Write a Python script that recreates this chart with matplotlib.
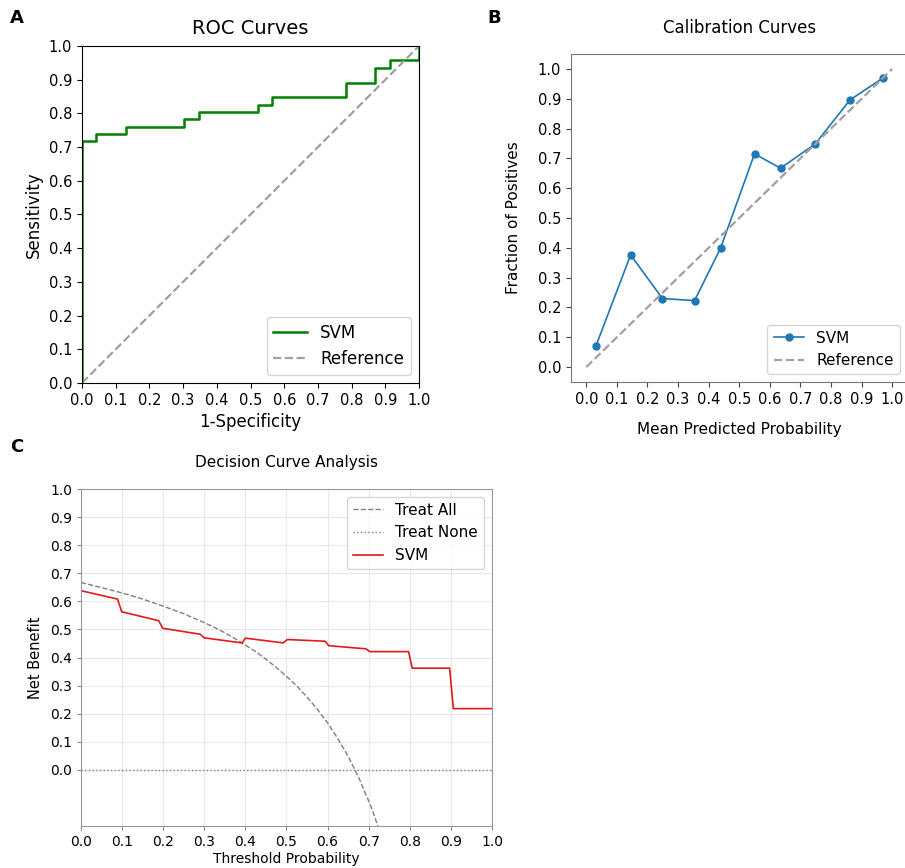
import matplotlib
matplotlib.use("Agg")
import matplotlib.pyplot as plt

# ---- Data ----
# ROC (corner points of the step curve)
roc_fpr = [0.0, 0.0, 0.043, 0.043, 0.130, 0.130, 0.304, 0.304, 0.348, 0.348, 0.522, 0.522,
           0.565, 0.565, 0.783, 0.783, 0.870, 0.870, 0.913, 0.913, 1.0, 1.0]
roc_tpr = [0.0, 0.717, 0.717, 0.739, 0.739, 0.761, 0.761, 0.783, 0.783, 0.804, 0.804, 0.826,
           0.826, 0.848, 0.848, 0.891, 0.891, 0.935, 0.935, 0.957, 0.957, 1.0]
ref_line = [0.0, 1.0]

# Calibration
cal_pred = [0.032, 0.145, 0.249, 0.354, 0.439, 0.550, 0.635, 0.749, 0.862, 0.969]
cal_frac = [0.072, 0.376, 0.230, 0.223, 0.399, 0.715, 0.667, 0.749, 0.896, 0.969]

# Decision curve
treat_all_thr = [0.0, 0.05, 0.10, 0.15, 0.20, 0.25, 0.30, 0.325, 0.35, 0.375, 0.40, 0.425,
                 0.45, 0.475, 0.50, 0.525, 0.55, 0.575, 0.60, 0.625, 0.65, 0.675, 0.70,
                 0.71, 0.725]
treat_all_nb = [0.667, 0.649, 0.630, 0.608, 0.583, 0.556, 0.524, 0.507, 0.488, 0.467, 0.444,
                0.421, 0.394, 0.365, 0.333, 0.299, 0.259, 0.216, 0.167, 0.111, 0.048,
                -0.025, -0.111, -0.148, -0.212]
none_thr = [0.0, 1.0]
none_nb = [0.0, 0.0]
svm_thr = [0.0, 0.089, 0.099, 0.189, 0.199, 0.290, 0.300, 0.392, 0.400, 0.492, 0.502, 0.594,
           0.603, 0.693, 0.703, 0.797, 0.806, 0.897, 0.906, 1.0]
svm_nb = [0.638, 0.608, 0.563, 0.531, 0.504, 0.483, 0.470, 0.452, 0.469, 0.452, 0.464, 0.458,
          0.442, 0.431, 0.421, 0.421, 0.362, 0.362, 0.218, 0.218]

ticks = [0.0, 0.1, 0.2, 0.3, 0.4, 0.5, 0.6, 0.7, 0.8, 0.9, 1.0]
tick_labels = ["0.0", "0.1", "0.2", "0.3", "0.4", "0.5", "0.6", "0.7", "0.8", "0.9", "1.0"]

plt.rcParams['font.family'] = ['DejaVu Sans']

fig = plt.figure(figsize=(9.05, 8.68), dpi=100)

# ---- Panel A: ROC ----
axA = fig.add_axes([0.0906, 0.5588, 0.3724, 0.3882])
axA.plot(roc_fpr, roc_tpr, color='green', lw=1.8, label='SVM')
axA.plot(ref_line, ref_line, color='#a0a0a0', lw=1.6, ls='--', label='Reference')
axA.set_xlim(0, 1)
axA.set_ylim(0, 1)
axA.set_xticks(ticks)
axA.set_xticklabels(tick_labels)
axA.set_yticks(ticks)
axA.set_yticklabels(tick_labels)
axA.tick_params(labelsize=10.5, length=3.5)
axA.set_xlabel('1-Specificity', fontsize=12)
axA.set_ylabel('Sensitivity', fontsize=12)
axA.set_title('ROC Curves', fontsize=14, pad=9)
axA.legend(loc='lower right', fontsize=12, fancybox=True)

# ---- Panel B: Calibration ----
axB = fig.add_axes([0.6309, 0.5599, 0.3719, 0.3779])
axB.plot(cal_pred, cal_frac, color='#1f77b4', lw=1.2, marker='o', ms=5, label='SVM')
axB.plot(ref_line, ref_line, color='#a0a0a0', lw=1.6, ls='--', label='Reference')
axB.set_xlim(-0.05, 1.05)
axB.set_ylim(-0.05, 1.05)
axB.set_xticks(ticks)
axB.set_xticklabels(tick_labels)
axB.set_yticks(ticks)
axB.set_yticklabels(tick_labels)
axB.tick_params(labelsize=10.5, length=3.5, color='#444444')
for s in axB.spines.values():
    s.set_color('#777777')
axB.set_xlabel('Mean Predicted Probability', fontsize=11, labelpad=11)
axB.set_ylabel('Fraction of Positives', fontsize=11, labelpad=12)
axB.set_title('Calibration Curves', fontsize=12, pad=15)
axB.legend(loc='lower right', fontsize=11)

# ---- Panel C: Decision Curve ----
axC = fig.add_axes([0.0895, 0.0484, 0.4541, 0.3882])
axC.plot(treat_all_thr, treat_all_nb, color='#808080', lw=1.0, ls='--', label='Treat All')
axC.plot(none_thr, none_nb, color='#808080', lw=1.0, ls=':', label='Treat None')
axC.plot(svm_thr, svm_nb, color='#e31a1c', lw=1.2, label='SVM')
axC.set_xlim(0, 1)
axC.set_ylim(-0.2, 1.0)
axC.set_xticks(ticks)
axC.set_xticklabels(tick_labels)
axC.set_yticks(ticks)
axC.set_yticklabels(tick_labels)
axC.grid(True, color='#e8e8e8', lw=0.8)
axC.set_axisbelow(True)
axC.tick_params(labelsize=10, length=3, color='#888888')
for s in axC.spines.values():
    s.set_color('#999999')
axC.set_xlabel('Threshold Probability', fontsize=10, labelpad=2)
axC.set_ylabel('Net Benefit', fontsize=10.5, labelpad=5)
axC.set_title('Decision Curve Analysis', fontsize=11, pad=16)
axC.legend(loc='upper right', fontsize=11)

# Panel labels
fig.text(10 / 905, 1 - 18 / 868, 'A', fontsize=13, fontweight='bold', va='center')
fig.text(487 / 905, 1 - 18 / 868, 'B', fontsize=13, fontweight='bold', va='center')
fig.text(10 / 905, 1 - 447 / 868, 'C', fontsize=13, fontweight='bold', va='center')

fig.savefig('out.png', dpi=100)
